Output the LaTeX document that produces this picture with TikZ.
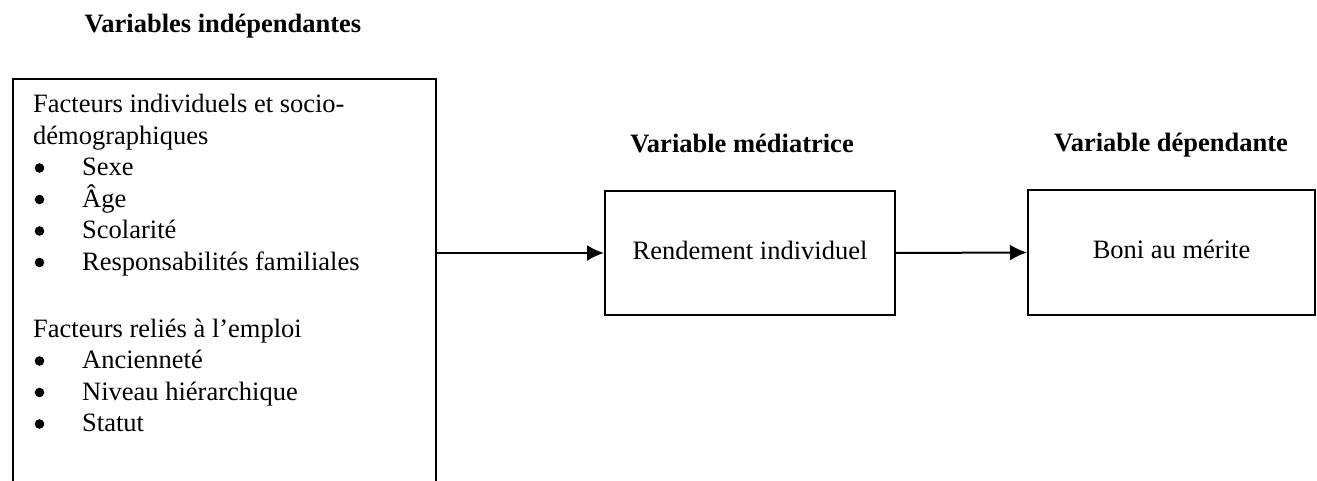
\documentclass[tikz,border=0pt]{standalone}
\usepackage{fontspec}
\setmainfont{Liberation Serif}
\usetikzlibrary{arrows.meta}
\newcommand\bul{\makebox[49pt][l]{\hspace{1.5pt}\tikz[x=1pt,y=1pt,baseline=0pt]\fill (4.8,8) circle (4.8);}}
\begin{document}
\begin{tikzpicture}[x=1pt,y=-1pt,
  every node/.style={font=\fontsize{26.5}{31.5}\selectfont, inner sep=0pt},
  box/.style={draw, line width=2pt, rectangle},
  ttl/.style={anchor=base, font=\fontsize{26.5}{31.5}\selectfont\bfseries},
  arr/.style={line width=2pt, -{Latex[length=17pt,width=16pt]}}]
\useasboundingbox (0,0) rectangle (1317,481);
\clip (0,0) rectangle (1317,481);
% titles
\node[ttl] (t1) at (223,33) {Variables indépendantes};
\node[ttl] (t2) at (742,153) {Variable médiatrice};
\node[ttl] (t3) at (1171,152) {Variable dépendante};
% left box (open at the bottom of the picture)
\node[box, anchor=north west, minimum width=423pt, minimum height=440pt] (indep) at (12,78) {};
\node[anchor=base west] (indeptxt) at (33,113) {\begin{minipage}[t]{395pt}\setlength\parindent{0pt}%
Facteurs individuels et socio-\\
démographiques\\
\bul Sexe\\
\bul Âge\\
\bul Scolarité\\
\bul Responsabilités familiales\\[35.5pt]
Facteurs reliés à l’emploi\\
\bul Ancienneté\\
\bul Niveau hiérarchique\\
\bul Statut
\end{minipage}};
% mediator and dependent boxes
\node[box, minimum width=290pt, minimum height=124pt, text height=18.4pt, text depth=6pt] (rend) at (750,253) {Rendement individuel};
\node[box, minimum width=287pt, minimum height=125pt, text height=18.4pt, text depth=6pt] (boni) at (1171.5,252.5) {Boni au mérite};
% connectors
\draw[arr] (indep.east |- rend.west) -- (rend.west);
\draw[arr] (rend.east) -- (boni.west);
\end{tikzpicture}
\end{document}
